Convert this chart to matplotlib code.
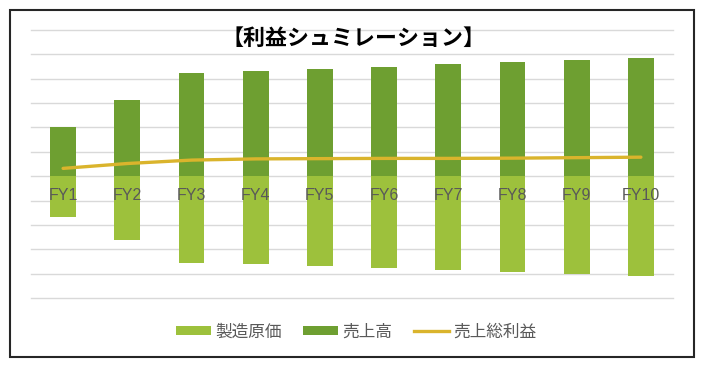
import matplotlib
matplotlib.use("Agg")
import matplotlib.pyplot as plt
from matplotlib.patches import Patch, Rectangle
from matplotlib.lines import Line2D
import numpy as np

plt.rcParams['font.family'] = ['Noto Sans CJK JP', 'DejaVu Sans']

# data (no axis units shown)
years = ["FY1", "FY2", "FY3", "FY4", "FY5", "FY6", "FY7", "FY8", "FY9", "FY10"]
sales = [2.03, 3.13, 4.22, 4.32, 4.39, 4.50, 4.59, 4.67, 4.77, 4.86]
cost = [-1.69, -2.62, -3.55, -3.62, -3.69, -3.76, -3.85, -3.93, -4.00, -4.10]
gross = [0.32, 0.52, 0.66, 0.71, 0.72, 0.73, 0.73, 0.74, 0.76, 0.78]

c_sales = "#6e9f31"
c_cost = "#9dc13c"
c_gross = "#dab42c"
c_text = "#595959"

W, H = 708, 367
fig = plt.figure(figsize=(W / 100, H / 100), dpi=100)
fig.patch.set_facecolor("white")

# axes box in pixels: left 31, right 673, top 30, bottom 298
ax = fig.add_axes([31 / W, 1 - 298 / H, (673 - 31) / W, (298 - 30) / H])
x = np.arange(len(years))

ax.bar(x, cost, width=0.4, color=c_cost, zorder=2)
ax.bar(x, sales, width=0.4, color=c_sales, zorder=2)
ax.plot(x, gross, color=c_gross, lw=2.4, zorder=3, solid_capstyle="round")

ax.set_xlim(-0.5, len(years) - 0.5)
ax.set_ylim(-5, 6)
ax.set_yticks(np.arange(-5, 7, 1))
ax.yaxis.grid(True, color="#d9d9d9", lw=1.0, zorder=0)
for gl in ax.get_ygridlines():
    gl.set_clip_on(False)
ax.set_axisbelow(True)
ax.tick_params(left=False, bottom=False, labelleft=False, labelbottom=False)
for s in ax.spines.values():
    s.set_visible(False)

# category labels sit just under the zero line, over the bars
for i, lab in enumerate(years):
    ax.text(i, -0.78, lab, ha="center", va="center", fontsize=11.5,
            color=c_text, zorder=4,
            family=['Liberation Sans Narrow', 'Liberation Sans', 'DejaVu Sans'])

fig.text(354 / W, 1 - 38 / H, "【利益シュミレーション】", ha="center", va="center",
         fontsize=15.8, fontweight="bold", color="black")

handles = [Patch(facecolor=c_cost, edgecolor="none"),
           Patch(facecolor=c_sales, edgecolor="none"),
           Line2D([0], [0], color=c_gross, lw=2.4)]
fig.legend(handles, ["製造原価", "売上高", "売上総利益"], loc="center",
           bbox_to_anchor=(356 / W, 1 - 332 / H), ncol=3, frameon=False,
           fontsize=12, labelcolor=c_text, handlelength=2.1, handleheight=0.48,
           handletextpad=0.25, columnspacing=1.3, borderpad=0)

# outer border of the chart
fig.patches.append(Rectangle((10 / W, 1 - 357 / H), 684 / W, 347 / H,
                             transform=fig.transFigure, fill=False,
                             edgecolor="#262626", lw=1.5))

fig.savefig("out.png", dpi=100)
